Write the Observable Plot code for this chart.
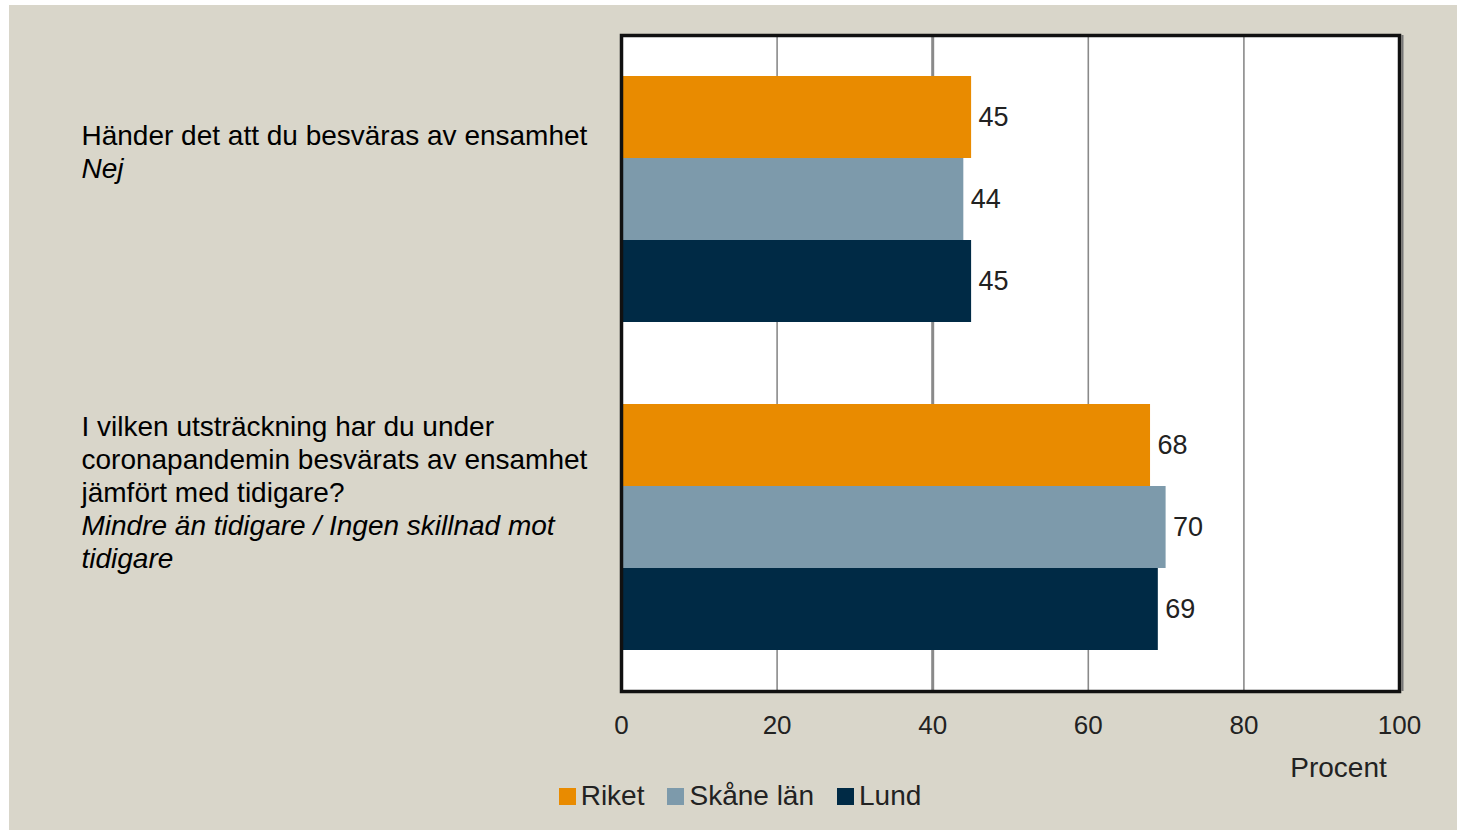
<!DOCTYPE html>
<html>
<head>
<meta charset="utf-8">
<script src="https://cdn.jsdelivr.net/npm/d3@7"></script>
<script src="https://cdn.jsdelivr.net/npm/@observablehq/plot@0.6"></script>
<style>
  html, body { margin: 0; padding: 0; background: #ffffff; }
  #panel {
    position: absolute; left: 9px; top: 5px; width: 1448px; height: 825px;
    background: #d9d6ca; overflow: hidden;
    font-family: "Liberation Sans", Arial, sans-serif;
  }
  #legend {
    display: flex; justify-content: center; align-items: center;
    margin-top: 6px; padding-left: 14px; gap: 23px;
    font-size: 28px; line-height: 30px; color: #222;
  }
  #legend .item { display: flex; align-items: center; gap: 5px; }
  #legend .sw { width: 17px; height: 17px; display: inline-block; }
</style>
</head>
<body>
<div id="panel"><div id="chart"></div><div id="legend"></div></div>
<script>
// ---- data ----
const questionIds = ["q1", "q2"];
const questionText = [
  ["Händer det att du besväras av ensamhet"],
  ["I vilken utsträckning har du under", "coronapandemin besvärats av ensamhet", "jämfört med tidigare?"]
];
const answerText = [
  ["Nej"],
  ["Mindre än tidigare / Ingen skillnad mot", "tidigare"]
];
const series = ["Riket", "Skåne län", "Lund"];
const valuesQ1 = [45, 44, 45];
const valuesQ2 = [68, 70, 69];
const seriesColors = ["#e98b00", "#7d9aab", "#002a45"];
const xTicks = [0, 20, 40, 60, 80, 100];
const gridTicks = [20, 40, 60, 80];
const xLabel = "Procent";

// ---- build table ----
const valuesByQ = [valuesQ1, valuesQ2];
const rows = [];
questionIds.forEach((q, qi) => {
  series.forEach((s, si) => rows.push({key: q + "|" + s, series: s, value: valuesByQ[qi][si]}));
});
const yDomain = [
  ...series.map(s => questionIds[0] + "|" + s),
  "spacer",
  ...series.map(s => questionIds[1] + "|" + s)
];

const fontSize = 28;
const lineH = 33;
const firstDy = [4, -33];
const labelMarks = [];
questionIds.forEach((q, qi) => {
  const anchorKey = q + "|" + series[0];
  labelMarks.push(Plot.text([questionText[qi].join("\n")], {
    y: () => anchorKey, text: d => d, frameAnchor: "left", dx: -540,
    dy: firstDy[qi], textAnchor: "start", lineAnchor: "top",
    lineHeight: lineH / fontSize, fontSize, fill: "#000"
  }));
  labelMarks.push(Plot.text([answerText[qi].join("\n")], {
    y: () => anchorKey, text: d => d, frameAnchor: "left", dx: -540,
    dy: firstDy[qi] + lineH * questionText[qi].length, textAnchor: "start", lineAnchor: "top",
    lineHeight: lineH / fontSize, fontSize, fontStyle: "italic", fill: "#000"
  }));
});

const chart = Plot.plot({
  width: 1448,
  height: 770,
  marginLeft: 612,
  marginRight: 58,
  marginTop: 30,
  marginBottom: 84,
  style: {background: "transparent", fontFamily: "'Liberation Sans', Arial, sans-serif", fontSize: "26px", color: "#222", overflow: "visible"},
  x: {domain: [0, 100], ticks: xTicks, tickSize: 0, tickPadding: 24, label: null},
  y: {domain: yDomain, paddingInner: 0, paddingOuter: 0.5, axis: null},
  color: {domain: series, range: seriesColors},
  marks: [
    Plot.frame({fill: "white"}),
    Plot.ruleX(gridTicks, {x: d => d, stroke: "#8a8a8a", strokeWidth: d => d === 40 ? 3 : 1.6}),
    Plot.barX(rows, {x: "value", y: "key", fill: "series"}),
    Plot.text(rows, {x: "value", y: "key", text: d => String(d.value), textAnchor: "start", dx: 7, fontSize: 27, fill: "#222"}),
    Plot.ruleX([100], {x: d => d, dx: 3, stroke: "#777", strokeWidth: 2}),
    Plot.frame({stroke: "#111", strokeWidth: 3.5}),
    Plot.text([xLabel], {frameAnchor: "bottom-right", text: d => d, dx: -61, dy: 85, textAnchor: "middle", fontSize: 28, fill: "#222"}),
    ...labelMarks
  ]
});
document.getElementById("chart").appendChild(chart);

const legend = document.getElementById("legend");
series.forEach((s, i) => {
  const item = document.createElement("div");
  item.className = "item";
  const sw = document.createElement("span");
  sw.className = "sw";
  sw.style.background = seriesColors[i];
  const t = document.createElement("span");
  t.textContent = s;
  item.appendChild(sw);
  item.appendChild(t);
  legend.appendChild(item);
});
</script>
</body>
</html>
